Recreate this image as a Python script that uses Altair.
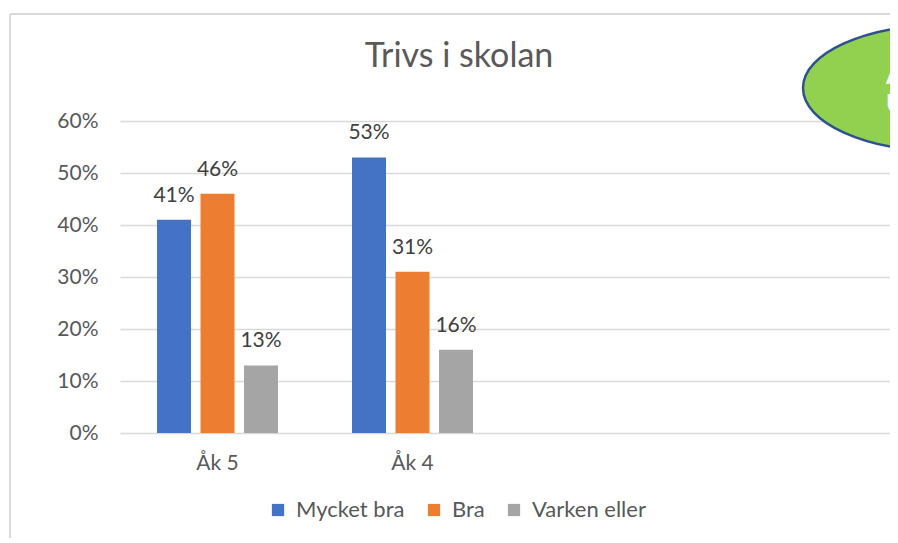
import altair as alt
import pandas as pd

# ---- data ----
groups = ["Åk 5", "Åk 4"]
empty_slots = ["_tom1", "_tom2"]          # empty category slots on the x axis
series = ["Mycket bra", "Bra", "Varken eller"]
mycket_bra = [41, 53]
bra = [46, 31]
varken_eller = [13, 16]
y_ticks = [0, 10, 20, 30, 40, 50, 60]
colors = ["#4472C4", "#ED7D31", "#A5A5A5"]
title_text = "Trivs i skolan"
badge_lines = ["A", "U"]

rows = []
for s, vals in zip(series, [mycket_bra, bra, varken_eller]):
    for g, v in zip(groups, vals):
        rows.append({"grupp": g, "serie": s, "varde": v})
df = pd.DataFrame(rows)

FONT = "Lato"
GRID = "#D9D9D9"
TXT = "#595959"

x_enc = alt.X(
    "grupp:N",
    sort=groups + empty_slots,
    scale=alt.Scale(domain=groups + empty_slots, range=[0, 780],
                    paddingInner=0.38, paddingOuter=0.19),
    axis=alt.Axis(
        title=None, labelAngle=0, ticks=False, domain=False,
        labelExpr="indexof(['_tom1','_tom2'], datum.value) >= 0 ? '' : datum.value",
        labelFont=FONT, labelFontSize=21, labelColor=TXT, labelPadding=19,
        grid=False,
    ),
)
xoff_enc = alt.XOffset("serie:N", sort=series,
                       scale=alt.Scale(domain=series, paddingInner=0.22, paddingOuter=0))
y_enc = alt.Y(
    "varde:Q",
    scale=alt.Scale(domain=[0, 60], nice=False, zero=True),
    axis=alt.Axis(
        title=None, values=y_ticks, labelExpr="datum.value + '%'",
        domain=False, ticks=False, grid=True, gridColor=GRID, gridWidth=1.5,
        labelFont=FONT, labelFontSize=21, labelColor=TXT, labelPadding=22,
    ),
)

base = alt.Chart(df).encode(x=x_enc, xOffset=xoff_enc, y=y_enc)

bars = base.mark_bar(size=34).encode(
    color=alt.Color(
        "serie:N", sort=series,
        scale=alt.Scale(domain=series, range=colors),
        legend=alt.Legend(
            title=None, orient="none", direction="horizontal",
            legendX=147, legendY=378,
            symbolType="square", symbolSize=150, symbolStrokeWidth=0,
            labelFont=FONT, labelFontSize=22, labelColor=TXT,
            labelOffset=7, columnPadding=18,
        ),
    )
)

labels = base.mark_text(
    baseline="alphabetic", dy=-18, font=FONT, fontSize=21, color="#404040"
).transform_calculate(lbl="datum.varde + '%'").encode(text="lbl:N")

one = pd.DataFrame({"k": [0]})

title = alt.Chart(one).mark_text(
    text=title_text, font=FONT, fontSize=34, color=TXT, align="center", baseline="alphabetic"
).encode(x=alt.value(339), y=alt.value(-54))

border_top = alt.Chart(one).mark_rule(color=GRID, strokeWidth=2).encode(
    x=alt.value(-110), x2=alt.value(900), y=alt.value(-107))
border_left = alt.Chart(one).mark_rule(color=GRID, strokeWidth=2).encode(
    x=alt.value(-110), y=alt.value(-107), y2=alt.value(600))

ellipse = alt.Chart(one).mark_point(
    shape="M -1 0 A 1 0.45 0 1 0 1 0 A 1 0.45 0 1 0 -1 0 Z",
    size=78400, filled=True, fill="#92D050", stroke="#2F528F", strokeWidth=2.5, opacity=1,
).encode(x=alt.value(823), y=alt.value(-33))

badge_a = alt.Chart(one).mark_text(
    text=badge_lines[0], font=FONT, fontSize=24, fontWeight="bold", color="white",
    align="left", baseline="middle",
).encode(x=alt.value(766), y=alt.value(-44))
badge_u = alt.Chart(one).mark_text(
    text=badge_lines[1], font=FONT, fontSize=24, fontWeight="bold", color="white",
    align="left", baseline="middle",
).encode(x=alt.value(766), y=alt.value(-16))

chart = alt.layer(border_top, border_left, bars, labels, title, ellipse, badge_a, badge_u).properties(
    width=770, height=312,
    padding={"left": 112, "top": 113, "right": 0, "bottom": 105},
    autosize=alt.AutoSizeParams(type="none"),
    background="white",
).configure_view(stroke=None)

chart.save("out.html", embed_options={"renderer": "svg", "actions": False})
